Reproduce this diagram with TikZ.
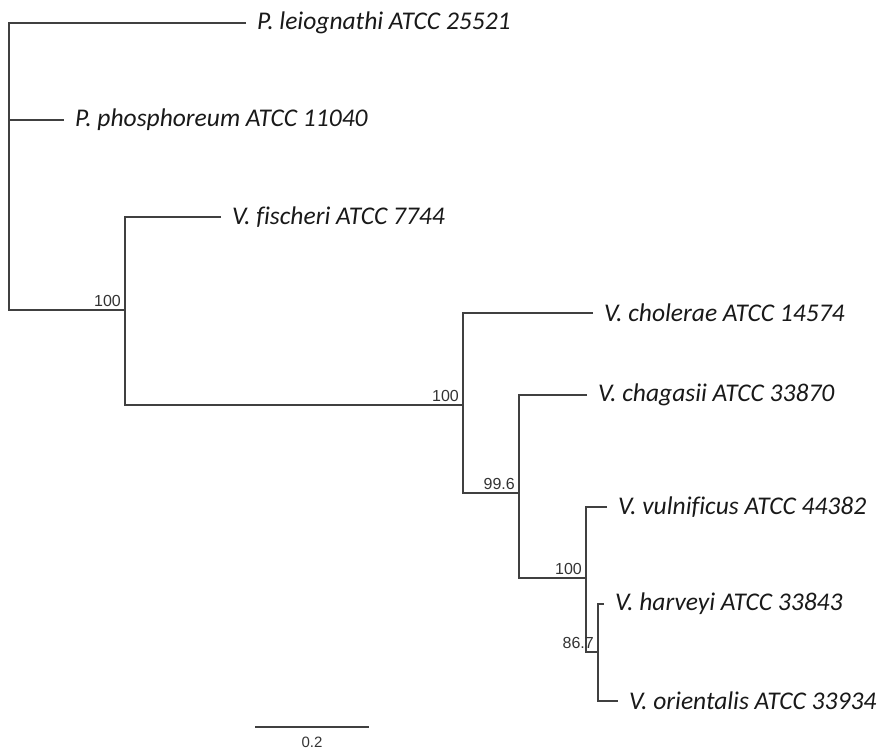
\documentclass[tikz,border=0pt]{standalone}
\usepackage{fontspec}
\setmainfont{Carlito}[Ligatures=CommonOff]
\newfontfamily\numfont{Liberation Sans}
\usepackage{tikz}
\usetikzlibrary{positioning, calc}

\tikzset{
  branch/.style={line width=1.2pt, black!75},
  taxon/.style={anchor=west, inner xsep=11pt, inner ysep=0pt, font=\fontsize{25.5}{28}\selectfont\itshape, text=black!90},
  boot/.style={anchor=base east, inner sep=0pt, xshift=-4pt, yshift=4pt, font=\numfont\fontsize{16}{18}\selectfont, text=black!80}
}

\begin{document}
\begin{tikzpicture}[x=1pt, y=-1pt]
                \useasboundingbox (0,0) rectangle (885,750);

                % Taxa
                \node[taxon] (leio) at (246, 23) {P. leiognathi ATCC 25521};
                \node[taxon] (phos) at (64, 120) {P. phosphoreum ATCC 11040};
                \node[taxon] (fisc) at (221, 217) {V. fischeri ATCC 7744};
                \node[taxon] (chol) at (593, 313) {V. cholerae ATCC 14574};
                \node[taxon] (chag) at (587, 395) {V. chagasii ATCC 33870};
                \node[taxon] (vuln) at (607, 507) {V. vulnificus ATCC 44382};
                \node[taxon] (harv) at (604, 604) {V. harveyi ATCC 33843};
                \node[taxon] (orie) at (618, 701) {V. orientalis ATCC 33934};

                % Inner nodes
                \coordinate (root) at (9, 310);
                \coordinate (nA) at (125, 310);
                \coordinate (nB) at (463, 405);
                \coordinate (nC) at (519, 493);
                \coordinate (nD) at (586, 578);
                \coordinate (nE) at (598, 652);

                % Branches
                \draw[branch] (leio.west) -| (root) |- (nA);
                \draw[branch] (root) |- (phos.west);
                \draw[branch] (fisc.west) -| (nA) |- (nB);
                \draw[branch] (chol.west) -| (nB) |- (nC);
                \draw[branch] (chag.west) -| (nC) |- (nD);
                \draw[branch] (vuln.west) -| (nD) |- (nE);
                \draw[branch] (harv.west) -| (nE) |- (orie.west);

                % Bootstrap values
                \node[boot] (bA) at (nA) {100};
                \node[boot] (bB) at (nB) {100};
                \node[boot] (bC) at (nC) {99.6};
                \node[boot] (bD) at (nD) {100};
                \node[boot] (bE) at (nE) {86.7};

                % Scale bar
                \coordinate (sb1) at (255, 727);
                \coordinate (sb2) at (369, 727);
                \draw[branch] (sb1) -- (sb2);
                \node[font=\numfont\fontsize{15}{17}\selectfont, text=black!80, anchor=north, inner sep=0pt] (sbl) at ($(sb1)!0.5!(sb2)+(0,10)$) {0.2};
            \end{tikzpicture}
\end{document}
